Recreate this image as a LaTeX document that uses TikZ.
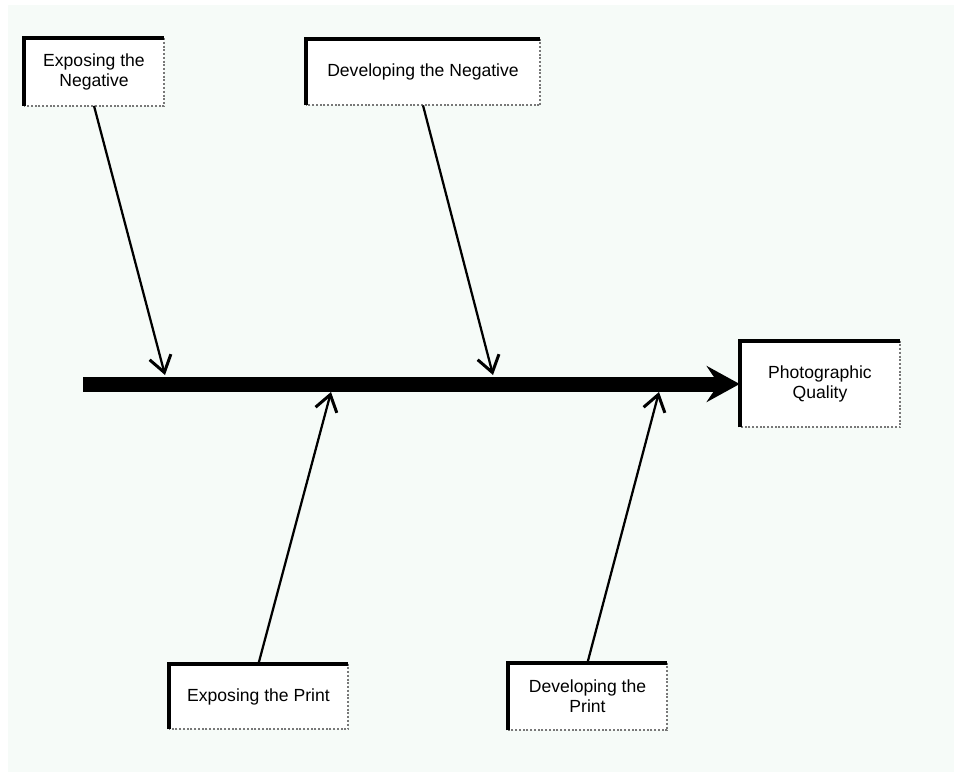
\documentclass[tikz,border=0pt]{standalone}
\usepackage{fontspec}
\setmainfont{Liberation Sans}
\usepackage{tikz}
\usetikzlibrary{arrows.meta}
\definecolor{paper}{RGB}{246,251,248}
\definecolor{dotgray}{RGB}{120,120,120}

\begin{document}
\begin{tikzpicture}[
  x=0.02cm, y=-0.02cm,
  font=\fontsize{10}{11.5}\selectfont,
  cause/.style={fill=white, inner sep=2pt, align=center},
  hiedge/.style={line width=0.08cm, draw=black},
  loedge/.style={line width=0.04cm, draw=dotgray, densely dotted},
  spine/.style={line width=0.3cm, -{Stealth[length=6.6mm, width=7.2mm, inset=2.4mm]}},
  rib/.style={line width=0.045cm, -{Straight Barb[length=3.2mm, width=4.4mm, line width=0.06cm]}},
]

% ============================================================
% PAPER
% ============================================================
\useasboundingbox (0,0) rectangle (954,772);
\fill[paper] (8,5) rectangle (954,772);

% ============================================================
% CAUSE BOXES AND EFFECT
% ============================================================
\node[cause, minimum width=2.8cm, minimum height=1.34cm] (expneg) at (94,72) {Exposing the\\Negative};
\node[cause, minimum width=4.68cm, minimum height=1.32cm] (devneg) at (423,72) {Developing the Negative};
\node[cause, minimum width=3.2cm, minimum height=1.72cm] (quality) at (820,384) {Photographic\\Quality};
\node[cause, minimum width=3.58cm, minimum height=1.3cm] (expprt) at (258.5,696.5) {Exposing the Print};
\node[cause, minimum width=3.18cm, minimum height=1.34cm] (devprt) at (587.5,696.5) {Developing the\\Print};

% borders: heavy top/left, dotted bottom/right
\foreach \n in {expneg,devneg,quality,expprt,devprt} {
  \draw[loedge] (\n.north east) -- (\n.south east) -- (\n.south west);
  \draw[hiedge] (\n.south west) -- (\n.north west) -- (\n.north east);
}

% ============================================================
% SPINE AND RIBS
% ============================================================
\coordinate (tail) at (83,384);
\draw[spine] (tail) -- (quality.west);

\coordinate (hitA) at (165,375);
\coordinate (hitB) at (493,375);
\coordinate (hitC) at (331,392);
\coordinate (hitD) at (659,392);

\draw[rib] (expneg.south) -- (hitA);
\draw[rib] (devneg.south) -- (hitB);
\draw[rib] (expprt.north) -- (hitC);
\draw[rib] (devprt.north) -- (hitD);

\end{tikzpicture}
\end{document}
